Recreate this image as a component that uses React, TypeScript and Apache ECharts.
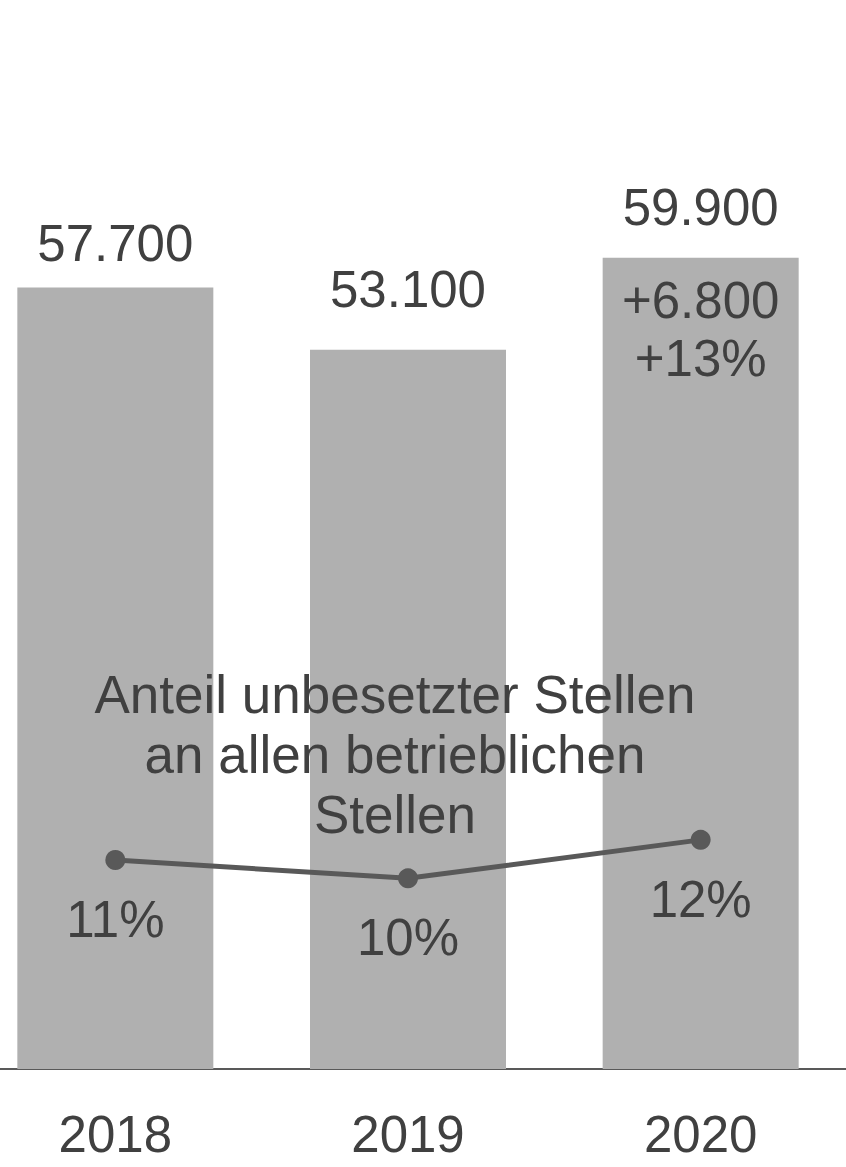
import React, { useEffect, useRef } from "react";
import * as echarts from "echarts";

const categories = ["2018", "2019", "2020"];
const vacancies = [57700, 53100, 59900];
const sharePercent = [11, 10, 12.1];
const annotationLines = ["Anteil unbesetzter Stellen", "an allen betrieblichen", "Stellen"];

const FONT = "'Liberation Sans', Arial, sans-serif";
const TEXT = "#404040";

function fmt(v: number): string {
  return String(Math.round(v)).replace(/\B(?=(\d{3})+(?!\d))/g, ".");
}

export default function App() {
  const ref = useRef<HTMLDivElement>(null);
  useEffect(() => {
    if (!ref.current) return;
    const chart = echarts.init(ref.current, null, { renderer: "svg" });
    const topGap = [19, 35, 25];
    const last = vacancies.length - 1;
    const delta = vacancies[last] - vacancies[last - 1];
    const deltaPct = Math.round((delta / vacancies[last - 1]) * 100);
    chart.setOption({
      animation: false,
      textStyle: { fontFamily: FONT },
      grid: { left: 0, right: 0, top: 121, bottom: 98 },
      xAxis: {
        type: "category",
        data: categories,
        axisTick: { show: false },
        axisLine: { lineStyle: { color: "#595959", width: 2 } },
        axisLabel: { fontSize: 51, color: TEXT, margin: 40, fontFamily: FONT },
      },
      yAxis: [
        { type: "value", min: 0, max: 70000, show: false, splitLine: { show: false } },
        { type: "value", min: -0.42, max: 51.38, show: false, splitLine: { show: false } },
      ],
      series: [
        {
          type: "bar",
          barWidth: 196,
          itemStyle: { color: "#b0b0b0" },
          data: vacancies.map((v, i) => ({
            value: v,
            label: {
              show: true,
              position: "top",
              distance: topGap[i],
              fontSize: 51,
              color: TEXT,
              fontFamily: FONT,
              formatter: () => fmt(v),
            },
          })),
          z: 2,
        },
        {
          type: "scatter",
          symbolSize: 2,
          itemStyle: { color: "transparent", opacity: 1 },
          data: [[categories[last], vacancies[last]]],
          label: {
            show: true,
            position: "bottom",
            distance: 12,
            fontSize: 51,
            lineHeight: 58.5,
            color: TEXT,
            opacity: 1,
            fontFamily: FONT,
            align: "center",
            formatter: () => `+${fmt(delta)}\n+${deltaPct}%`,
          },
          z: 3,
        },
        {
          type: "line",
          yAxisIndex: 1,
          data: sharePercent,
          symbol: "circle",
          symbolSize: 20,
          lineStyle: { color: "#595959", width: 5 },
          itemStyle: { color: "#595959" },
          label: {
            show: true,
            position: "bottom",
            distance: 24,
            fontSize: 51,
            color: TEXT,
            fontFamily: FONT,
            formatter: (p: any) => `${Math.round(p.value)}%`,
          },
          z: 5,
        },
      ],
      graphic: [
        {
          type: "text",
          x: 426,
          y: 664,
          z: 100,
          style: {
            text: annotationLines.join("\n"),
            font: `53px ${FONT}`,
            fontSize: 53,
            fontFamily: FONT,
            lineHeight: 60,
            fill: TEXT,
            align: "center",
            verticalAlign: "top",
          },
        },
      ],
    });
    return () => chart.dispose();
  }, []);
  return (
    <div
      style={{ position: "absolute", left: 0, top: 0, width: 846, height: 1167, overflow: "hidden" }}
    >
      <div
        ref={ref}
        style={{ position: "absolute", left: -31, top: 0, width: 878, height: 1167 }}
      />
    </div>
  );
}
